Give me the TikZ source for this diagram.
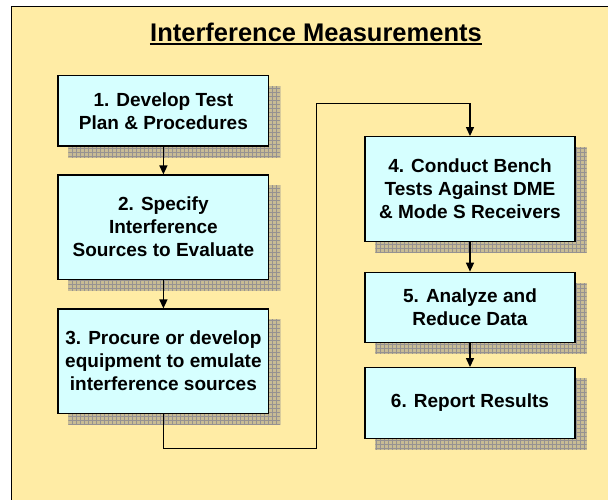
\documentclass[tikz,border=0pt]{standalone}
\usepackage{fontspec}
\setmainfont{Liberation Sans}
\usetikzlibrary{arrows.meta}
\pgfdeclarelayer{bg}
\pgfdeclarelayer{shad}
\pgfsetlayers{bg,shad,main}
\definecolor{paper}{RGB}{255,236,165}
\definecolor{boxfill}{RGB}{214,255,255}
\definecolor{shadfill}{RGB}{200,188,148}
\definecolor{shadgrid}{RGB}{150,146,145}
\tikzset{
  stepbox/.style={draw=black, line width=1.3pt, fill=boxfill, align=center,
    font=\fontsize{19}{23}\selectfont\bfseries, inner sep=0pt},
  conn/.style={line width=1.3pt, -{Triangle[length=9pt,width=8pt]}},
  titletext/.style={font=\fontsize{25.5}{30}\selectfont\bfseries, inner sep=0pt, anchor=base},
}
\newcommand\boxshadow[1]{%
  \begin{pgfonlayer}{shad}
    \fill[shadfill] ([shift={(11,11)}]#1.north west) rectangle ([shift={(11,11)}]#1.south east);
    \begin{scope}
      \clip ([shift={(11,11)}]#1.north west) rectangle ([shift={(11,11)}]#1.south east);
      \draw[shadgrid, line width=0.35pt, step=4pt] ([shift={(11,11)}]#1.north west) grid ([shift={(11,11)}]#1.south east);
    \end{scope}
  \end{pgfonlayer}}
\begin{document}
\begin{tikzpicture}[x=1pt,y=-1pt]
\useasboundingbox (0,0) rectangle (608,499);
\begin{pgfonlayer}{bg}
  \fill[white] (0,0) rectangle (608,499);
  \draw[fill=paper, line width=1.5pt] (11.5,6.5) rectangle (640,530);
\end{pgfonlayer}

\node[titletext] (title) at (316,41) {Interference Measurements};
\draw[line width=2pt] ([yshift=-3.3pt]title.base west) -- ([yshift=-3.3pt]title.base east);

\node[stepbox, minimum width=210.7pt, minimum height=70.3pt] (b1) at (163.4,110.8) {1. Develop Test\\Plan \& Procedures};
\node[stepbox, minimum width=210.7pt, minimum height=104.3pt] (b2) at (163.4,227.2) {2. Specify\\Interference\\Sources to Evaluate};
\node[stepbox, minimum width=210.7pt, minimum height=104.3pt] (b3) at (163.4,361.2) {3. Procure or develop\\equipment to emulate\\interference sources};
\node[stepbox, minimum width=210pt, minimum height=105pt] (b4) at (470,189.2) {4. Conduct Bench\\Tests Against DME\\\& Mode S Receivers};
\node[stepbox, minimum width=210pt, minimum height=70pt] (b5) at (470,307.3) {5. Analyze and\\Reduce Data};
\node[stepbox, minimum width=210pt, minimum height=70.6pt] (b6) at (470,403) {6. Report Results};

\boxshadow{b1}\boxshadow{b2}\boxshadow{b3}\boxshadow{b4}\boxshadow{b5}\boxshadow{b6}

\coordinate (k1) at (163.4,448.3);
\coordinate (k2) at (316.7,448.3);
\coordinate (k3) at (316.7,103.3);
\coordinate (k4) at (470,103.3);

\draw[conn] (b1.south) -- (b2.north);
\draw[conn] (b2.south) -- (b3.north);
\draw[conn] (b3.south) -- (k1) -- (k2) -- (k3) -- (k4) -- (b4.north);
\draw[conn] (b4.south) -- (b5.north);
\draw[conn] (b5.south) -- (b6.north);
\end{tikzpicture}
\end{document}
